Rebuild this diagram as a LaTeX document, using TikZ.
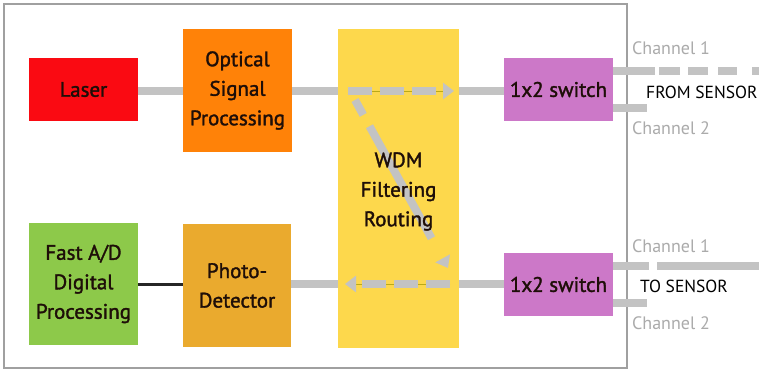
\documentclass[tikz,border=0pt]{standalone}
\usepackage{fontspec}
\setmainfont{PT Sans}
\newfontfamily\blkfont{PT Sans}[FakeBold=1.6]
\usetikzlibrary{arrows.meta,calc}
\definecolor{cLaser}{HTML}{FA0A12}
\definecolor{cOsp}{HTML}{FF8208}
\definecolor{cWdm}{HTML}{FDD84C}
\definecolor{cSw}{HTML}{CC78C8}
\definecolor{cAdc}{HTML}{8DC94A}
\definecolor{cPd}{HTML}{EAAA2E}
\definecolor{cLine}{HTML}{C3C3C3}
\definecolor{cChan}{HTML}{ABABAB}
\definecolor{cFrame}{HTML}{A0A0A0}
\definecolor{cText}{HTML}{1E0E08}
\tikzset{
  blk/.style={rectangle, inner sep=0pt, align=center, text=cText,
    font=\blkfont\fontsize{21}{29.5}\selectfont},
  fib/.style={draw=cLine, line width=8pt},
  dfib/.style={draw=cLine, line width=8pt, dash pattern=on 24pt off 8pt,
    -{Triangle[length=11pt,width=16pt]}},
  chan/.style={text=cChan, font=\fontsize{18}{20}\selectfont, inner sep=0pt},
  senslbl/.style={text=black, font=\fontsize{17.5}{20}\selectfont, inner sep=0pt, anchor=west},
}
\begin{document}
\begin{tikzpicture}[x=1pt,y=-1pt]
\useasboundingbox (0,0) rectangle (759,372);
\fill[white] (0,0) rectangle (759,372);
\draw[cFrame, line width=1.5pt] (4,4) rectangle (627,368);

% blocks
\node[blk, fill=cLaser, minimum width=109pt, minimum height=63pt] (laser) at (83.5,89.5) {Laser};
\node[blk, fill=cOsp, minimum width=109pt, minimum height=123pt] (osp) at (237.5,90.5) {Optical\\Signal\\Processing};
\node[blk, fill=cWdm, minimum width=121pt, minimum height=319pt] (wdm) at (398.5,188.5) {};
\node[blk, fill=cSw, minimum width=109pt, minimum height=63pt] (sw1) at (558.5,89.5) {1x2 switch};
\node[blk, fill=cSw, minimum width=109pt, minimum height=63pt] (sw2) at (558.5,284.5) {1x2 switch};
\node[blk, fill=cAdc, minimum width=109pt, minimum height=122pt] (adc) at (83.5,284) {Fast A/D\\Digital\\Processing};
\node[blk, fill=cPd, minimum width=108pt, minimum height=123pt] (pd) at (237,285.5) {Photo-\\Detector};

% coordinates
\coordinate (wtl) at (338,91);
\coordinate (wtr) at (459,91);
\coordinate (wbl) at (338,284);
\coordinate (wbr) at (459,284);
\coordinate (ta) at (348,91);
\coordinate (tb) at (454,91);
\coordinate (ba) at (450,284);
\coordinate (bb) at (345,284);
\coordinate (da) at (355,100);
\coordinate (db) at (448,268);

% fibres
\draw[fib] (laser.east |- 0,91) -- (osp.west |- 0,91);
\draw[fib] (osp.east |- wtl) -- (wtl);
\draw[fib] (wtr) -- (sw1.west |- wtr);
\draw[fib] (pd.east |- wbl) -- (wbl);
\draw[fib] (wbr) -- (sw2.west |- wbr);
\draw[black!85, line width=3pt] (adc.east |- 0,284) -- (pd.west |- 0,284);

% routing inside WDM
\draw[olive!60!cWdm, line width=1pt] (ta) -- (445,91);
\draw[olive!60!cWdm, line width=1pt] (ba) -- (355,284);
\draw[dfib] (ta) -- (tb);
\draw[dfib] (ba) -- (bb);
\draw[dfib, dash pattern=on 17pt off 13pt on 128pt off 40pt] (da) -- (db);
\node[blk] (wdmtext) at ([yshift=-3pt]wdm.center) {WDM\\Filtering\\Routing};

% right-hand channels
\coordinate (c1e) at (759,71);
\coordinate (c2e) at (647,108);
\coordinate (c3m) at (649,266);
\coordinate (c3n) at (657,266);
\coordinate (c3e) at (759,266);
\coordinate (c4e) at (647,303);
\draw[cLine, line width=8pt, dash pattern=on 42pt off 4pt on 21pt off 8pt on 20pt off 10pt on 19pt off 15pt on 20pt off 50pt] (sw1.east |- c1e) -- (c1e);
\draw[fib] (sw1.east |- c2e) -- (c2e);
\draw[fib] (sw2.east |- c3m) -- (c3m);
\draw[fib] (c3n) -- (c3e);
\draw[fib] (sw2.east |- c4e) -- (c4e);

\node[chan] (ch1a) at (671,48) {Channel 1};
\node[chan] (ch2a) at (671,128) {Channel 2};
\node[senslbl] (from) at (646,92) {FROM SENSOR};
\node[chan] (ch1b) at (671,246) {Channel 1};
\node[senslbl] (to) at (640,286) {TO SENSOR};
\node[chan] (ch2b) at (671,323) {Channel 2};
\end{tikzpicture}
\end{document}
